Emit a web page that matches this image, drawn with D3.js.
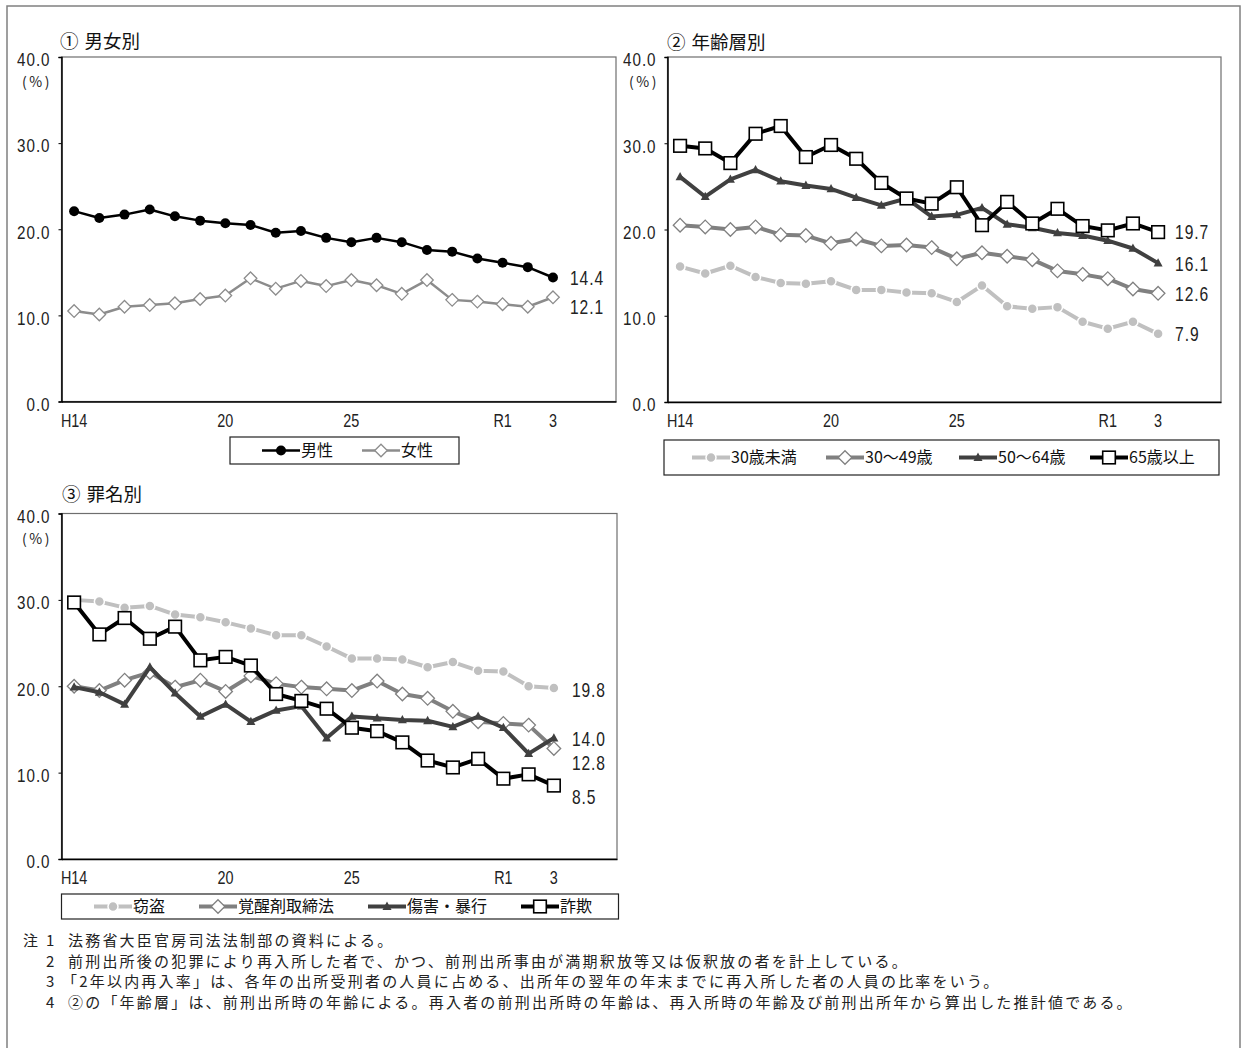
<!DOCTYPE html>
<html><head><meta charset="utf-8">
<script src="https://cdn.jsdelivr.net/npm/d3@7"></script>
<style>
body{margin:0;background:#fff}
svg{display:block}
.num{font-family:"Liberation Sans",Arial,sans-serif}
.jp{font-family:"Noto Sans CJK JP",sans-serif}
</style></head><body>
<svg id="c" width="1242" height="1048"></svg>
<script>
// ---------- data ----------
const categories = ["H14","15","16","17","18","19","20","21","22","23","24","25","26","27","28","29","30","R1","2","3"];
const xTickLabels = ["H14","20","25","R1","3"];
const yTicks = [0,10,20,30,40];

const genderNames = ["男性","女性"];
const male   = [22.1,21.3,21.7,22.3,21.5,21.0,20.7,20.5,19.6,19.8,19.0,18.5,19.0,18.5,17.6,17.4,16.6,16.1,15.6,14.4];
const female = [10.5,10.1,11.0,11.2,11.4,11.9,12.3,14.3,13.1,14.0,13.4,14.1,13.5,12.5,14.1,11.8,11.6,11.3,11.0,12.1];

const ageNames = ["30歳未満","30～49歳","50～64歳","65歳以上"];
const ageUnder30 = [15.7,14.9,15.8,14.5,13.8,13.7,14.0,13.0,13.0,12.7,12.6,11.6,13.5,11.1,10.8,11.0,9.3,8.5,9.3,7.9];
const age30to49  = [20.5,20.3,20.0,20.3,19.4,19.3,18.4,18.9,18.1,18.2,17.9,16.6,17.3,16.9,16.5,15.2,14.8,14.3,13.1,12.6];
const age50to64  = [26.1,23.8,25.8,26.9,25.6,25.1,24.7,23.7,22.8,23.6,21.5,21.7,22.5,20.6,20.2,19.6,19.3,18.7,17.8,16.1];
const age65plus  = [29.7,29.4,27.7,31.1,32.0,28.4,29.8,28.2,25.4,23.6,23.0,24.9,20.5,23.2,20.7,22.4,20.4,19.9,20.7,19.7];

const crimeNames = ["窃盗","覚醒剤取締法","傷害・暴行","詐欺"];
const theft     = [30.0,29.8,29.1,29.3,28.3,28.0,27.4,26.7,25.9,25.9,24.6,23.2,23.2,23.1,22.2,22.8,21.8,21.7,20.0,19.8];
const stimulant = [20.0,19.5,20.7,21.6,19.9,20.7,19.4,21.2,20.3,19.9,19.7,19.5,20.6,19.1,18.6,17.1,15.9,15.7,15.5,12.8];
const assault   = [19.9,19.3,17.9,22.2,19.2,16.5,17.9,15.9,17.2,17.7,14.0,16.5,16.3,16.1,16.0,15.3,16.5,15.2,12.2,14.0];
const fraud     = [29.7,26.0,27.9,25.5,26.9,23.0,23.4,22.4,19.1,18.3,17.4,15.2,14.8,13.5,11.4,10.6,11.6,9.3,9.8,8.5];

const titleMarks = ["①","②","③"];
const titles = ["男女別","年齢層別","罪名別"];
const notes = [
  ["注","1","法務省大臣官房司法法制部の資料による。"],
  ["","2","前刑出所後の犯罪により再入所した者で、かつ、前刑出所事由が満期釈放等又は仮釈放の者を計上している。"],
  ["","3","「2年以内再入率」は、各年の出所受刑者の人員に占める、出所年の翌年の年末までに再入所した者の人員の比率をいう。"],
  ["","4","②の「年齢層」は、前刑出所時の年齢による。再入者の前刑出所時の年齢は、再入所時の年齢及び前刑出所年から算出した推計値である。"]
];

// ---------- styles ----------
const ST = {
  male:   {color:"#000", lw:2.5, marker:"circle",  size:5,   fill:"#000", stroke:"#000", sw:0},
  female: {color:"#8c8c8c", lw:2.5, marker:"diamond", size:6.3, fill:"#fff", stroke:"#8c8c8c", sw:1.3},
  light:  {color:"#c0c0c0", lw:4, marker:"circle",  size:5,   fill:"#c0c0c0", stroke:"#fff", sw:1.5},
  mid:    {color:"#808080", lw:4, marker:"diamond", size:6.8, fill:"#fff", stroke:"#808080", sw:1.3},
  dark:   {color:"#404040", lw:4, marker:"triangle",size:4.5, fill:"#404040", stroke:"#404040", sw:0},
  black:  {color:"#000", lw:4, marker:"square",  size:6.3, fill:"#fff", stroke:"#000", sw:1.6}
};
const NUM_SX = 0.8;

const svg = d3.select("#c");

// outer border
svg.append("rect").attr("x",7).attr("y",6).attr("width",1233).attr("height",1100)
  .attr("fill","none").attr("stroke","#808080").attr("stroke-width",1.5);

function numText(g, x, y, txt, size, anchor, sx){
  return g.append("text").attr("class","num").attr("transform",`translate(${x},${y}) scale(${sx},1)`)
    .attr("text-anchor",anchor||"start").attr("dy","0.36em").attr("font-size",size)
    .attr("letter-spacing",1.2).attr("fill","#222").text(txt);
}

function drawMarker(g, st, x, y){
  const s = st.size;
  let el;
  if (st.marker==="circle") el = g.append("circle").attr("cx",x).attr("cy",y).attr("r",s);
  else if (st.marker==="diamond") el = g.append("path").attr("d",`M${x},${y-s}L${x+s},${y}L${x},${y+s}L${x-s},${y}Z`);
  else if (st.marker==="square") el = g.append("rect").attr("x",x-s).attr("y",y-s).attr("width",2*s).attr("height",2*s);
  else if (st.marker==="triangle") el = g.append("path").attr("d",`M${x},${y-s*1.1}L${x+s},${y+s*0.75}L${x-s},${y+s*0.75}Z`);
  el.attr("fill",st.fill).attr("stroke",st.sw?st.stroke:"none").attr("stroke-width",st.sw);
}

function panel(cfg){
  const {left,right,top,bottom,series,idx,titlePos,legend,labelDx} = cfg;
  const g = svg.append("g");
  const slots = categories.concat(["_a","_b"]);
  const x = d3.scaleBand().domain(slots).range([left,right]);
  const y = d3.scaleLinear().domain([0,40]).range([bottom,top]);
  const cx = c => x(c)+x.bandwidth()/2;

  // frame
  g.append("rect").attr("x",left).attr("y",top).attr("width",right-left).attr("height",bottom-top)
    .attr("fill","none").attr("stroke","#6e6e6e").attr("stroke-width",1.2);
  // y axis
  const ya = g.append("g").attr("transform",`translate(${left},0)`)
    .call(d3.axisLeft(y).tickValues(yTicks).tickSize(3).tickPadding(7).tickFormat(d3.format(".1f")));
  ya.select(".domain").attr("stroke","#000").attr("stroke-width",1.5);
  ya.selectAll(".tick line").attr("stroke","#000");
  ya.selectAll("text").attr("class","num").attr("font-size",19).attr("fill","#222").attr("letter-spacing",1.2)
    .attr("x",0).attr("dy","0.36em").attr("transform",`translate(-11,2) scale(${NUM_SX},1)`);
  // x axis
  const xa = g.append("g").attr("transform",`translate(0,${bottom})`)
    .call(d3.axisBottom(x).tickValues(xTickLabels).tickSize(0).tickPadding(0).tickFormat(d=>d).tickSizeOuter(0));
  xa.select(".domain").attr("stroke","#000").attr("stroke-width",1.5);
  xa.selectAll("text").attr("class","num").attr("font-size",18).attr("fill","#222")
    .attr("y",0).attr("dy","0.36em").attr("transform",`translate(0,${cfg.xLabelDy}) scale(${NUM_SX},1)`);
  // (%)
  g.append("text").attr("class","jp").attr("x",cfg.pctX).attr("y",top+30).attr("text-anchor","middle")
    .attr("font-size",14).attr("letter-spacing",2.5).attr("fill","#222").text("(%)");
  // title
  const t = g.append("text").attr("class","jp").attr("x",titlePos[0]).attr("y",titlePos[1]).attr("font-size",18.5)
    .attr("fill","#111");
  t.append("tspan").text(titleMarks[idx]);
  t.append("tspan").attr("dx",6).text(titles[idx]);

  // series
  const line = d3.line().x((d,i)=>cx(categories[i])).y(d=>y(d));
  series.forEach(s=>{
    const sg = g.append("g");
    sg.append("path").datum(s.values).attr("d",line).attr("fill","none")
      .attr("stroke",s.st.color).attr("stroke-width",s.st.lw).attr("stroke-linejoin","round");
    s.values.forEach((v,i)=>drawMarker(sg,s.st,cx(categories[i]),y(v)));
  });
  // end labels
  series.forEach(s=>{
    const last = s.values[s.values.length-1];
    numText(g, cx(categories[categories.length-1])+labelDx, y(last)+(s.labelDy||0), d3.format(".1f")(last), 20, "start", 0.78);
  });
  // legend
  const L = legend;
  g.append("rect").attr("x",L.x).attr("y",L.y).attr("width",L.w).attr("height",L.h)
    .attr("fill","#fff").attr("stroke","#222").attr("stroke-width",1.2);
  series.forEach((s,i)=>{
    const lx = L.items[i];
    const ly = L.y + L.h/2;
    g.append("line").attr("x1",lx).attr("x2",lx+38).attr("y1",ly).attr("y2",ly)
      .attr("stroke",s.st.color).attr("stroke-width",s.st.lw);
    drawMarker(g,s.st,lx+19,ly);
    g.append("text").attr("class","jp").attr("x",lx+39).attr("y",ly).attr("dy","0.36em")
      .attr("font-size",16).attr("fill","#111").text(s.name);
  });
}

panel({idx:0,left:61.5,right:616,top:57,bottom:401.5,pctX:37,titlePos:[60,48],labelDx:17,xLabelDy:19,
  series:[
    {name:genderNames[0],values:male,st:ST.male,labelDy:0},
    {name:genderNames[1],values:female,st:ST.female,labelDy:9}
  ],
  legend:{x:230,y:437,w:229,h:27,items:[262,362]}
});

panel({idx:1,left:667.5,right:1221,top:57,bottom:402,pctX:644,titlePos:[667,49],labelDx:17,xLabelDy:19,
  series:[
    {name:ageNames[0],values:ageUnder30,st:ST.light},
    {name:ageNames[1],values:age30to49,st:ST.mid},
    {name:ageNames[2],values:age50to64,st:ST.dark,labelDy:1},
    {name:ageNames[3],values:age65plus,st:ST.black}
  ],
  legend:{x:664,y:440,w:555,h:35,items:[692,826,959,1090]}
});

panel({idx:2,left:61.5,right:617,top:513.5,bottom:859,pctX:37,titlePos:[62,501],labelDx:18,xLabelDy:19,
  series:[
    {name:crimeNames[0],values:theft,st:ST.light,labelDy:2},
    {name:crimeNames[1],values:stimulant,st:ST.mid,labelDy:14},
    {name:crimeNames[2],values:assault,st:ST.dark,labelDy:1},
    {name:crimeNames[3],values:fraud,st:ST.black,labelDy:11}
  ],
  legend:{x:61.5,y:894,w:557,h:25,items:[94,199,368,521]}
});

// notes
const ng = svg.append("g").attr("class","jp").attr("font-size",15).attr("fill","#222");
notes.forEach((n,i)=>{
  const yy = 946 + i*20.5;
  if(n[0]) ng.append("text").attr("x",23).attr("y",yy).text(n[0]);
  ng.append("text").attr("x",46).attr("y",yy).text(n[1]);
  ng.append("text").attr("x",n[2].startsWith("「")?62:68).attr("y",yy).attr("letter-spacing",2.2).text(n[2]);
});
</script>
</body></html>
